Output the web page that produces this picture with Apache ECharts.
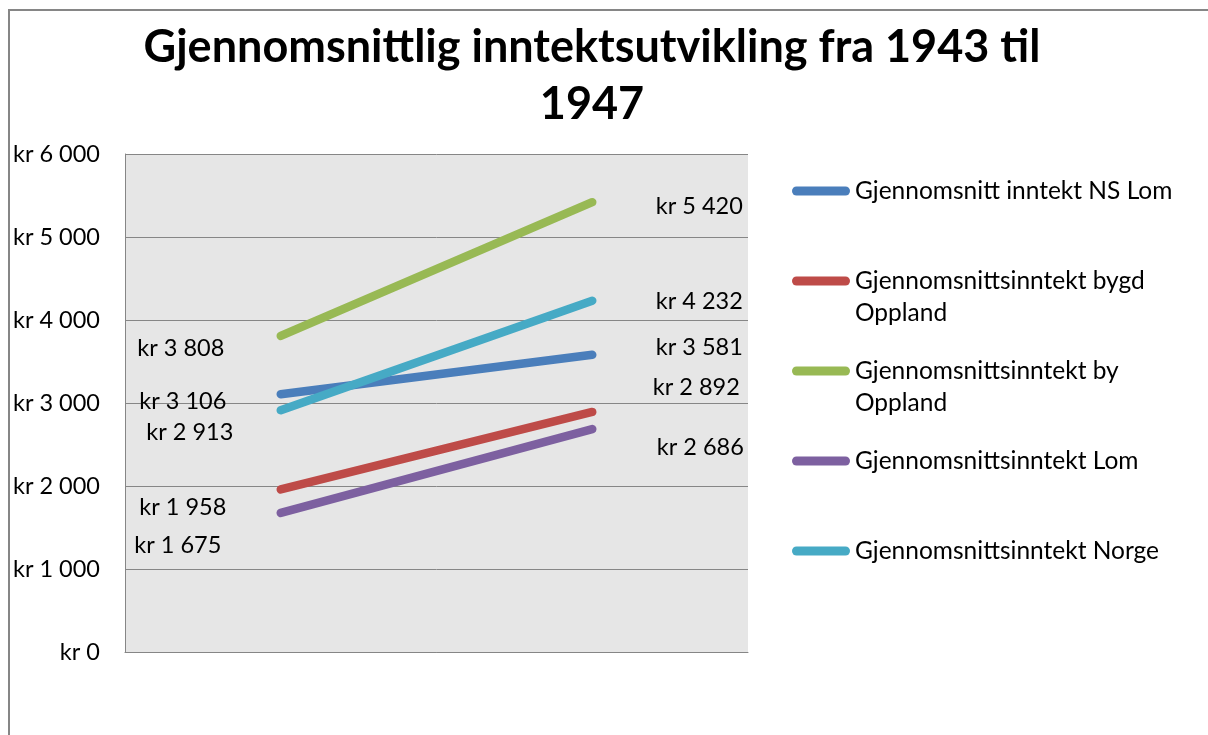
<!DOCTYPE html>
<html>
<head>
<meta charset="utf-8">
<script src="https://cdn.jsdelivr.net/npm/echarts@6/dist/echarts.min.js"></script>
<style>
html,body{margin:0;padding:0;background:#fff;}
#main{width:1208px;height:735px;}
</style>
</head>
<body>
<div id="main"></div>
<script>
// ---- data ----
var titleText = 'Gjennomsnittlig inntektsutvikling fra 1943 til\n1947';
var years = ['1943', '1947'];
var seriesNames = [
  'Gjennomsnitt inntekt NS Lom',
  'Gjennomsnittsinntekt bygd\nOppland',
  'Gjennomsnittsinntekt by\nOppland',
  'Gjennomsnittsinntekt Lom',
  'Gjennomsnittsinntekt Norge'
];
var nsLom = [3106, 3581];
var bygdOppland = [1958, 2892];
var byOppland = [3808, 5420];
var lom = [1675, 2686];
var norge = [2913, 4232];
var yTickLabels = ['kr 0', 'kr 1 000', 'kr 2 000', 'kr 3 000', 'kr 4 000', 'kr 5 000', 'kr 6 000'];

// ---- styling / layout (not data) ----
var colors = ['#4A7EBB', '#BE4B48', '#98B954', '#7D60A0', '#46AAC5'];
// label offsets [dx, dy] from each point, per series, per category
var labelOffsets = [
  [[-98, 7], [107, -7]],
  [[-98, 18], [104, -25]],
  [[-100, 12], [107, 4]],
  [[-103, 32], [108, 18]],
  [[-91, 22], [107, 1]]
];
var FONT = 'Lato';

function fmtKr(v) {
  var s = String(Math.round(v));
  var out = '';
  while (s.length > 3) { out = ' ' + s.slice(-3) + out; s = s.slice(0, -3); }
  return 'kr ' + s + out;
}

var allValues = [nsLom, bygdOppland, byOppland, lom, norge];

var series = allValues.map(function (vals, si) {
  return {
    name: seriesNames[si],
    type: 'line',
    symbol: 'circle',
    symbolSize: 1,
    showSymbol: true,
    silent: true,
    lineStyle: { width: 8.5, cap: 'round', color: colors[si] },
    itemStyle: { color: colors[si] },
    data: vals.map(function (v, i) {
      return {
        value: v,
        label: {
          show: true,
          position: 'inside',
          offset: labelOffsets[si][i],
          formatter: function (p) { return fmtKr(p.value); },
          color: '#000',
          fontFamily: FONT,
          fontSize: 23.5
        }
      };
    })
  };
});

var roundLine = 'path://M4.5,0 L53.5,0 A4.5,4.5 0 0 1 53.5,9 L4.5,9 A4.5,4.5 0 0 1 4.5,0 Z';

var chart = echarts.init(document.getElementById('main'), null, { renderer: 'canvas' });
chart.setOption({
  animation: false,
  color: colors,
  title: {
    text: titleText,
    left: 587,
    top: 13.5,
    textAlign: 'center',
    textStyle: {
      fontFamily: FONT,
      fontWeight: 'bold',
      fontSize: 45,
      lineHeight: 57,
      color: '#000'
    }
  },
  legend: {
    orient: 'vertical',
    left: 787,
    top: 138,
    itemWidth: 58,
    itemHeight: 9,
    itemGap: -6,
    icon: roundLine,
    selectedMode: false,
    data: seriesNames,
    // pad every entry to three lines so the icon sits on the first text line
    formatter: function (name) {
      return name.indexOf('\n') >= 0 ? '\n' + name : '\n' + name + '\n';
    },
    textStyle: {
      fontFamily: FONT,
      fontSize: 24.5,
      lineHeight: 32,
      color: '#000'
    }
  },
  grid: {
    left: 125,
    top: 154,
    right: 460,
    bottom: 83,
    show: true,
    backgroundColor: '#e6e6e6',
    borderWidth: 0,
    containLabel: false
  },
  xAxis: {
    type: 'category',
    data: years,
    boundaryGap: true,
    axisLine: { show: true, lineStyle: { color: '#868686', width: 1 } },
    axisTick: { show: false },
    axisLabel: { show: false },
    splitLine: { show: false }
  },
  yAxis: {
    type: 'value',
    min: 0,
    max: 6000,
    interval: 1000,
    axisLine: { show: true, lineStyle: { color: '#868686', width: 1 } },
    axisTick: { show: false },
    axisLabel: {
      margin: 25,
      color: '#000',
      fontFamily: FONT,
      fontSize: 23.5,
      formatter: function (v) { return yTickLabels[Math.round(v / 1000)]; }
    },
    splitLine: { show: true, lineStyle: { color: '#868686', width: 1 } }
  },
  graphic: [{
    type: 'rect',
    silent: true,
    z: -1,
    shape: { x: 9, y: 10, width: 1250, height: 800 },
    style: { fill: 'none', stroke: '#868686', lineWidth: 2 }
  }],
  series: series
});
</script>
</body>
</html>
